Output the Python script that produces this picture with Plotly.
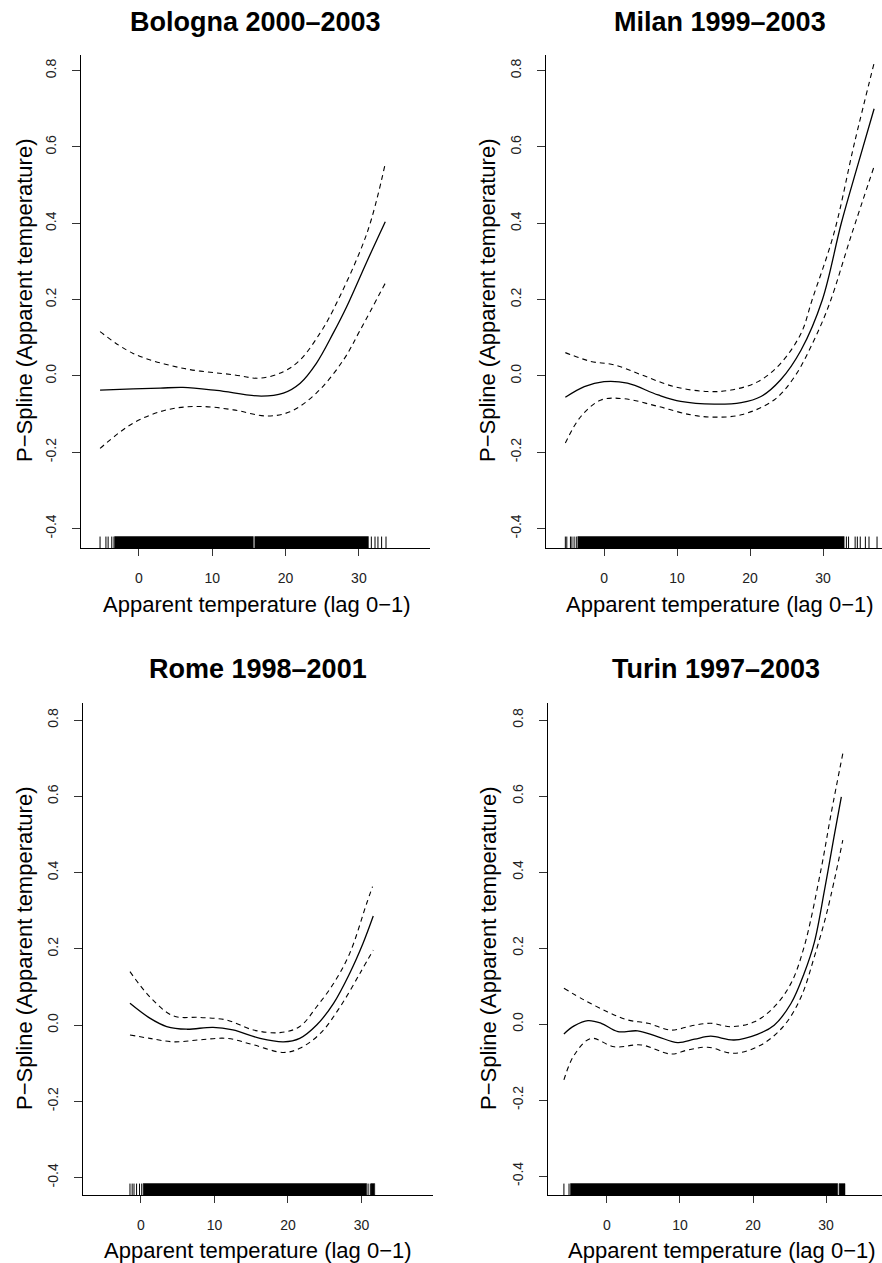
import plotly.graph_objects as go

# ---------------- data ----------------
cities = ["Bologna 2000–2003", "Milan 1999–2003", "Rome 1998–2001", "Turin 1997–2003"]

bo_fit_x = [-5.3, -0.8, 2.9, 6.0, 10.6, 16.7, 19.7, 22.0, 24.2, 26.5, 28.3, 31.1, 33.6]
bo_fit_y = [-0.037, -0.034, -0.032, -0.030, -0.038, -0.053, -0.045, -0.019, 0.033, 0.112, 0.180, 0.300, 0.404]
bo_up_x = [-5.3, -0.8, 6.0, 12.9, 16.5, 19.7, 22.0, 24.7, 26.5, 31.1, 33.6]
bo_up_y = [0.116, 0.059, 0.020, 0.003, -0.006, 0.011, 0.042, 0.112, 0.173, 0.374, 0.557]
bo_lo_x = [-5.3, -0.8, 3.8, 8.3, 12.9, 17.4, 20.6, 24.2, 27.9, 30.2, 33.6]
bo_lo_y = [-0.190, -0.124, -0.089, -0.080, -0.089, -0.105, -0.094, -0.045, 0.042, 0.121, 0.243]
bo_rug = [-5.3, -4.5, -4.2, -3.7, -3.4, 31.7, 32.2, 32.6, 33.1, 33.7]
bo_rug_dense = [(-3.3, 15.6), (15.8, 31.3)]

mi_fit_x = [-5.3, -2.7, 0.0, 3.2, 7.4, 10.5, 15.1, 18.8, 21.5, 24.2, 27.0, 29.9, 32.5, 34.8, 37.0]
mi_fit_y = [-0.056, -0.028, -0.015, -0.019, -0.050, -0.067, -0.074, -0.070, -0.054, -0.010, 0.068, 0.199, 0.400, 0.555, 0.700]
mi_up_x = [-5.3, -1.8, 1.4, 5.1, 9.6, 14.2, 17.4, 21.1, 24.2, 27.0, 28.5, 31.5, 34.3, 37.0]
mi_up_y = [0.061, 0.038, 0.029, 0.003, -0.028, -0.041, -0.037, -0.015, 0.033, 0.112, 0.199, 0.374, 0.610, 0.820]
mi_lo_x = [-5.3, -3.2, -0.4, 2.8, 7.4, 11.9, 15.1, 18.8, 23.3, 26.1, 28.8, 30.9, 33.9, 37.0]
mi_lo_y = [-0.176, -0.107, -0.063, -0.060, -0.080, -0.102, -0.108, -0.102, -0.063, -0.002, 0.095, 0.190, 0.370, 0.549]
mi_rug = [-5.3, -5.1, -4.6, -4.4, -4.1, -3.8, 33.2, 33.5, 34.4, 34.7, 35.1, 35.8, 36.3, 37.4]
mi_rug_dense = [(-3.6, 32.9)]

ro_fit_x = [-1.5, 1.2, 3.5, 6.2, 9.8, 12.5, 16.2, 19.4, 21.6, 23.9, 26.2, 28.4, 30.2, 31.6]
ro_fit_y = [0.057, 0.018, -0.004, -0.011, -0.006, -0.013, -0.035, -0.044, -0.035, 0.000, 0.057, 0.136, 0.214, 0.286]
ro_up_x = [-1.5, 1.2, 4.4, 8.0, 11.7, 15.3, 18.9, 21.6, 23.9, 26.2, 28.4, 30.7, 31.5]
ro_up_y = [0.140, 0.074, 0.024, 0.020, 0.013, -0.013, -0.020, -0.004, 0.048, 0.109, 0.188, 0.319, 0.363]
ro_lo_x = [-1.5, 1.2, 4.4, 8.0, 11.7, 15.3, 19.4, 21.6, 24.4, 27.1, 29.8, 31.6]
ro_lo_y = [-0.026, -0.035, -0.044, -0.039, -0.035, -0.052, -0.072, -0.061, -0.022, 0.048, 0.136, 0.197]
ro_rug = [-1.5, -1.2, -0.95, -0.6, -0.2, 0.1, 30.9, 31.2]
ro_rug_dense = [(0.3, 30.7), (31.3, 31.8)]

tu_fit_x = [-5.9, -4.5, -2.6, -0.8, 1.5, 4.2, 6.9, 9.7, 12.0, 14.2, 17.4, 20.6, 22.9, 25.2, 27.0, 28.4, 29.8, 31.1, 32.1]
tu_fit_y = [-0.026, -0.005, 0.009, 0.002, -0.020, -0.018, -0.033, -0.049, -0.040, -0.032, -0.042, -0.027, -0.003, 0.054, 0.133, 0.215, 0.353, 0.493, 0.598]
tu_up_x = [-5.9, -3.1, 0.1, 2.8, 5.6, 8.8, 11.5, 14.2, 17.0, 20.2, 22.9, 25.2, 27.0, 29.3, 30.7, 32.3]
tu_up_y = [0.094, 0.063, 0.032, 0.011, 0.002, -0.016, -0.005, 0.002, -0.007, 0.006, 0.045, 0.107, 0.203, 0.405, 0.554, 0.712]
tu_lo_x = [-5.9, -4.5, -2.2, 1.0, 4.7, 8.8, 11.1, 13.8, 17.4, 21.1, 24.3, 26.6, 28.4, 30.2, 32.3]
tu_lo_y = [-0.147, -0.082, -0.038, -0.060, -0.055, -0.079, -0.068, -0.061, -0.077, -0.055, -0.003, 0.072, 0.177, 0.300, 0.484]
tu_rug = [-5.9, -5.2]
tu_rug_dense = [(-5.0, 31.6), (31.8, 32.6)]

x_ticks = [0, 10, 20, 30]
y_ticks = [-0.4, -0.2, 0.0, 0.2, 0.4, 0.6, 0.8]
y_tick_labels = ["-0.4", "-0.2", "0.0", "0.2", "0.4", "0.6", "0.8"]
x_title = "Apparent temperature (lag 0−1)"
y_title = "P−Spline (Apparent temperature)"

panels = [
    dict(fit=(bo_fit_x, bo_fit_y), up=(bo_up_x, bo_up_y), lo=(bo_lo_x, bo_lo_y), rug=bo_rug, dense=bo_rug_dense),
    dict(fit=(mi_fit_x, mi_fit_y), up=(mi_up_x, mi_up_y), lo=(mi_lo_x, mi_lo_y), rug=mi_rug, dense=mi_rug_dense),
    dict(fit=(ro_fit_x, ro_fit_y), up=(ro_up_x, ro_up_y), lo=(ro_lo_x, ro_lo_y), rug=ro_rug, dense=ro_rug_dense),
    dict(fit=(tu_fit_x, tu_fit_y), up=(tu_up_x, tu_up_y), lo=(tu_lo_x, tu_lo_y), rug=tu_rug, dense=tu_rug_dense),
]

# ---------------- layout geometry ----------------
W, H = 882, 1263
FONT = "Liberation Sans, Arial, Helvetica, sans-serif"
geo = [
    dict(xd=(81, 430), yd=(55, 548), xr=(-7.9, 39.7), yr=(-0.451, 0.841)),
    dict(xd=(546, 882), yd=(55, 548), xr=(-7.95, 38.08), yr=(-0.451, 0.841)),
    dict(xd=(83, 433), yd=(703, 1195), xr=(-7.89, 39.73), yr=(-0.446, 0.845)),
    dict(xd=(548, 882), yd=(703, 1195), xr=(-8.08, 37.67), yr=(-0.450, 0.845)),
]
title_pos = [(255.5, 22), (720, 22), (258, 669), (716, 669)]
xt_pos = [(257, 604), (720, 604), (258, 1250), (722, 1250)]
yt_pos = [(24, 301), (487, 301), (24, 949), (488, 949)]
RUG_LEN = 0.03

fig = go.Figure()
layout = dict(
    width=W, height=H, margin=dict(l=0, r=0, t=0, b=0, autoexpand=False),
    paper_bgcolor="white", plot_bgcolor="white", showlegend=False,
    font=dict(family=FONT, color="black"),
)
annotations = []

for i, (p, g) in enumerate(zip(panels, geo)):
    n = "" if i == 0 else str(i + 1)
    xa, ya = "x" + n, "y" + n
    # rug: dense band
    for a, b in p["dense"]:
        y0 = g["yr"][0]
        fig.add_trace(go.Scatter(
            x=[a, b, b, a, a], y=[y0, y0, y0 + RUG_LEN, y0 + RUG_LEN, y0],
            mode="lines", fill="toself", fillcolor="black",
            line=dict(color="black", width=0.5), xaxis=xa, yaxis=ya, hoverinfo="skip"))
    # rug: individual ticks
    rx, ry = [], []
    for v in p["rug"]:
        rx += [v, v, None]
        ry += [g["yr"][0], g["yr"][0] + RUG_LEN, None]
    fig.add_trace(go.Scatter(x=rx, y=ry, mode="lines", line=dict(color="black", width=1),
                             xaxis=xa, yaxis=ya, hoverinfo="skip"))
    # curves
    for key, dash, wdt in [("up", "5px,4px", 1.1), ("lo", "5px,4px", 1.1), ("fit", "solid", 1.3)]:
        cx, cy = p[key]
        fig.add_trace(go.Scatter(x=cx, y=cy, mode="lines",
                                 line=dict(color="black", width=wdt, dash=dash, shape="spline", smoothing=1.0),
                                 xaxis=xa, yaxis=ya))

    layout["xaxis" + n] = dict(
        domain=[g["xd"][0] / W, g["xd"][1] / W], range=list(g["xr"]), anchor=ya,
        showline=True, linecolor="black", linewidth=1.2, mirror=False, automargin=False,
        ticks="outside", ticklen=7, tickwidth=1, tickcolor="#333",
        tickvals=x_ticks, showgrid=False, zeroline=False,
        tickfont=dict(size=14, color="#222", family=FONT), ticklabelstandoff=10,
    )
    layout["yaxis" + n] = dict(
        domain=[1 - g["yd"][1] / H, 1 - g["yd"][0] / H], range=list(g["yr"]), anchor=xa,
        showline=True, linecolor="black", linewidth=1.2, mirror=False, automargin=False,
        ticks="outside", ticklen=8, tickwidth=1, tickcolor="#333",
        tickvals=y_ticks, ticktext=y_tick_labels, tickangle=-90, showgrid=False, zeroline=False,
        tickfont=dict(size=14, color="#222", family=FONT), ticklabelstandoff=10,
    )
    tx, ty = title_pos[i]
    annotations.append(dict(text="<b>" + cities[i] + "</b>", x=tx / W, y=1 - ty / H, xref="paper", yref="paper",
                            showarrow=False, xanchor="center", yanchor="middle",
                            font=dict(size=27, family=FONT, color="black")))
    xx, xy = xt_pos[i]
    annotations.append(dict(text=x_title, x=xx / W, y=1 - xy / H, xref="paper", yref="paper",
                            showarrow=False, xanchor="center", yanchor="middle",
                            font=dict(size=22, family=FONT, color="black")))
    yx, yy = yt_pos[i]
    annotations.append(dict(text=y_title, x=yx / W, y=1 - yy / H, xref="paper", yref="paper",
                            showarrow=False, xanchor="center", yanchor="middle", textangle=-90,
                            font=dict(size=22, family=FONT, color="black")))

layout["annotations"] = annotations
fig.update_layout(**layout)
fig.write_html("out.html", config={"displayModeBar": False},
               post_script="document.body.style.margin='0';document.body.style.overflow='hidden';")
